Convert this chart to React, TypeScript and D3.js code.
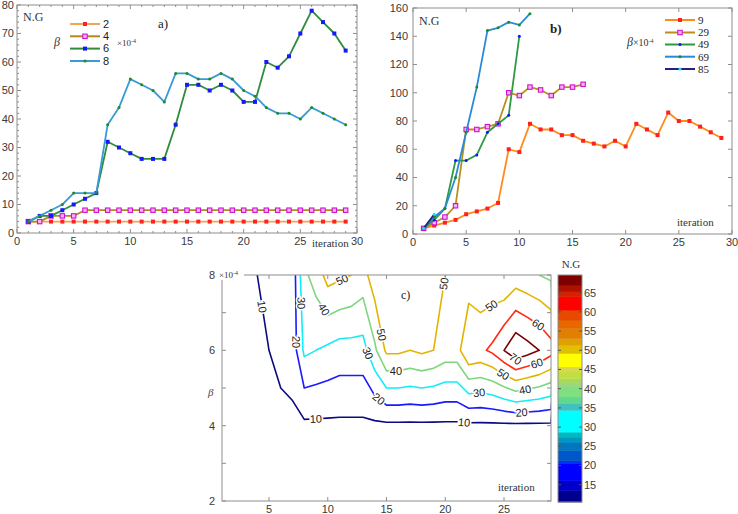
import React from "react";
import * as d3 from "d3";

// iteration index shared by every series
const ITER = d3.range(1, 30);

// a) N.G per iteration, β = 2, 4, 6, 8 (×10^-4)
const NG_B2 = [4, 4, 4, 4, 4, 4, 4, 4, 4, 4, 4, 4, 4, 4, 4, 4, 4, 4, 4, 4, 4, 4, 4, 4, 4, 4, 4, 4, 4];
const NG_B4 = [4, 4, 6, 6, 6, 8, 8, 8, 8, 8, 8, 8, 8, 8, 8, 8, 8, 8, 8, 8, 8, 8, 8, 8, 8, 8, 8, 8, 8];
const NG_B6 = [4, 6, 6, 8, 10, 12, 14, 32, 30, 28, 26, 26, 26, 38, 52, 52, 50, 52, 50, 46, 46, 60, 58, 62, 70, 78, 74, 70, 64];
const NG_B8 = [4, 6, 8, 10, 14, 14, 14, 38, 44, 54, 52, 50, 46, 56, 56, 54, 54, 56, 54, 50, 48, 44, 42, 42, 40, 44, 42, 40, 38];

// b) N.G per iteration, β = 9 … 85 (×10^-4)
const NG_B9 = [4, 6, 8, 10, 14, 16, 18, 22, 60, 58, 78, 74, 74, 70, 70, 66, 64, 62, 66, 62, 78, 74, 70, 86, 80, 80, 76, 72, 68];
const NG_B29 = [4, 8, 12, 20, 74, 74, 76, 78, 100, 98, 104, 102, 98, 104, 104, 106];
const NG_B49 = [4, 10, 18, 52, 52, 56, 72, 78, 84, 140];
const NG_B69 = [4, 12, 18, 40, 72, 104, 144, 146, 150, 148, 156];
const NG_B85 = [4, 14];

// c) contour grid built from the a) series
const BETA = [2, 4, 6, 8];
const GRID = [NG_B2, NG_B4, NG_B6, NG_B8];
const LEVELS = [10, 20, 30, 40, 50, 60, 70];
const LEVEL_COLORS = ["#0a0a82", "#1a1aff", "#14ecf8", "#7ed67e", "#e2b400", "#ff2a10", "#7a0000"];

// inline contour labels: level, iteration, β
const CLABELS: [number, number, number][] = [
  [10, 4.2, 7.15], [10, 9.0, 4.13], [10, 21.6, 4.06],
  [20, 7.33, 6.22], [20, 14.1, 4.62], [20, 26.5, 4.32],
  [30, 7.45, 7.25], [30, 13.3, 5.91], [30, 22.9, 4.83],
  [40, 9.6, 7.07], [40, 15.8, 5.42], [40, 26.8, 4.96],
  [50, 11.25, 7.85], [50, 14.4, 6.4], [50, 19.7, 7.78], [50, 24.0, 7.15], [50, 24.8, 5.3],
  [60, 27.7, 6.58], [60, 27.8, 5.65],
  [70, 26.0, 5.78],
];

// colour bar bands (boundaries ascending) and their colours
const CBAR_EDGES = [10.5, 13.5, 16.1, 20.5, 21.3, 24.0, 26.1, 27.4, 28.7, 34.4, 36.1, 37.9, 40.5, 41.3, 42.7, 44.4, 45.7, 49.2, 51.3, 53.1, 55.7, 57.9, 60.5, 64.0, 65.3, 67.0, 69.6];
const CBAR_COLORS = ["#00008f", "#0000c8", "#0000ff", "#0030f0", "#0058c8", "#0078c0", "#0098c0", "#00b8c0", "#00ffff", "#40c0c0", "#60d890", "#80e080", "#98d880", "#a8d860", "#c0e040", "#d8d850", "#ffff00", "#e0c000", "#e0a000", "#e08000", "#e86800", "#e84800", "#ff0000", "#d82000", "#b01000", "#800000"];
const CBAR_TICKS = [15, 20, 25, 30, 35, 40, 45, 50, 55, 60, 65];

const SANS = "Arial, 'Liberation Sans', sans-serif";
const SERIF = "'Times New Roman', 'Liberation Serif', serif";
const FRAME = "#8e8e8e";
const INK = "#3a3a3a";

type MarkerKind = "sq" | "sqo" | "dot";
interface Series {
  name: string;
  values: number[];
  line: string;
  marker: MarkerKind;
  mark: string;
}

const SERIES_A: Series[] = [
  { name: "2", values: NG_B2, line: "#f4a455", marker: "sq", mark: "#ff2222" },
  { name: "4", values: NG_B4, line: "#b48a1e", marker: "sqo", mark: "#d010d0" },
  { name: "6", values: NG_B6, line: "#2f8c3a", marker: "sq", mark: "#1818ff" },
  { name: "8", values: NG_B8, line: "#3a9ad8", marker: "dot", mark: "#1e8c1e" },
];

const SERIES_B: Series[] = [
  { name: "9", values: NG_B9, line: "#ff8c1a", marker: "sq", mark: "#ff2020" },
  { name: "29", values: NG_B29, line: "#b8901a", marker: "sqo", mark: "#d010d0" },
  { name: "49", values: NG_B49, line: "#2e9a40", marker: "dot", mark: "#1414ff" },
  { name: "69", values: NG_B69, line: "#2a8ad8", marker: "dot", mark: "#1e8c1e" },
  { name: "85", values: NG_B85, line: "#222280", marker: "dot", mark: "#20e0f0" },
];

function Marker({ kind, x, y, color }: { kind: MarkerKind; x: number; y: number; color: string }) {
  if (kind === "sq") return <rect x={x - 2} y={y - 2} width={4} height={4} fill={color} />;
  if (kind === "sqo")
    return <rect x={x - 2.2} y={y - 2.2} width={4.4} height={4.4} fill="#f6b0f6" stroke={color} strokeWidth={1.1} />;
  return <circle cx={x} cy={y} r={1.5} fill={color} />;
}

interface Box {
  left: number;
  right: number;
  top: number;
  bottom: number;
}

// boxed frame with inward ticks on all four sides
function Frame({
  box, x, y, xMajor, yMajor, xMinor = [], yMinor = [], xLabels = true,
}: {
  box: Box;
  x: d3.ScaleLinear<number, number>;
  y: d3.ScaleLinear<number, number>;
  xMajor: number[];
  yMajor: number[];
  xMinor?: number[];
  yMinor?: number[];
  xLabels?: boolean;
}) {
  const { left, right, top, bottom } = box;
  return (
    <g>
      <rect x={left} y={top} width={right - left} height={bottom - top} fill="none" stroke={FRAME} strokeWidth={1} />
      {xMajor.map((v) => (
        <g key={"xm" + v}>
          <line x1={x(v)} x2={x(v)} y1={bottom} y2={bottom - 4} stroke={FRAME} />
          <line x1={x(v)} x2={x(v)} y1={top} y2={top + 4} stroke={FRAME} />
          {xLabels && (
            <text x={x(v)} y={bottom + 12} textAnchor="middle" fontFamily={SANS} fontSize={11} fill={INK}>
              {v}
            </text>
          )}
        </g>
      ))}
      {xMinor.map((v) => (
        <g key={"xn" + v}>
          <line x1={x(v)} x2={x(v)} y1={bottom} y2={bottom - 2} stroke={FRAME} />
          <line x1={x(v)} x2={x(v)} y1={top} y2={top + 2} stroke={FRAME} />
        </g>
      ))}
      {yMajor.map((v) => (
        <g key={"ym" + v}>
          <line x1={left} x2={left + 4} y1={y(v)} y2={y(v)} stroke={FRAME} />
          <line x1={right} x2={right - 4} y1={y(v)} y2={y(v)} stroke={FRAME} />
        </g>
      ))}
      {yMinor.map((v) => (
        <g key={"yn" + v}>
          <line x1={left} x2={left + 2} y1={y(v)} y2={y(v)} stroke={FRAME} />
          <line x1={right} x2={right - 2} y1={y(v)} y2={y(v)} stroke={FRAME} />
        </g>
      ))}
    </g>
  );
}

function SeriesMarks({ s, x, y }: { s: Series; x: d3.ScaleLinear<number, number>; y: d3.ScaleLinear<number, number> }) {
  const pts = s.values.map((v, i) => [ITER[i], v] as [number, number]);
  const path = d3.line<[number, number]>().x((d) => x(d[0])).y((d) => y(d[1]))(pts) ?? "";
  return (
    <g>
      <path d={path} fill="none" stroke={s.line} strokeWidth={1.8} strokeLinejoin="round" />
      {pts.map((p, i) => (
        <Marker key={i} kind={s.marker} x={x(p[0])} y={y(p[1])} color={s.mark} />
      ))}
    </g>
  );
}

function Legend({ series, x1, x2, ys, font, size }: { series: Series[]; x1: number; x2: number; ys: number[]; font: string; size: number }) {
  return (
    <g>
      {series.map((s, i) => (
        <g key={s.name}>
          <line x1={x1} x2={x2} y1={ys[i]} y2={ys[i]} stroke={s.line} strokeWidth={2} />
          <Marker kind={s.marker} x={(x1 + x2) / 2} y={ys[i]} color={s.mark} />
          <text x={x2 + 3} y={ys[i]} dy="0.35em" fontFamily={font} fontSize={size} fill="#222">
            {s.name}
          </text>
        </g>
      ))}
    </g>
  );
}

function PanelA() {
  const box = { left: 17, right: 357, top: 5, bottom: 233 };
  const x = d3.scaleLinear().domain([0, 30]).range([box.left, box.right]);
  const y = d3.scaleLinear().domain([0, 80]).range([box.bottom, box.top]);
  const yMajor = d3.range(0, 81, 10);
  return (
    <g>
      <Frame
        box={box} x={x} y={y}
        xMajor={d3.range(0, 31, 5)}
        yMajor={yMajor}
        xMinor={d3.range(0, 31).filter((v) => v % 5 !== 0)}
        yMinor={d3.range(0, 81, 2).filter((v) => v % 10 !== 0)}
      />
      {yMajor.map((v) => (
        <text key={v} x={box.left - 3} y={y(v)} dy="0.36em" textAnchor="end" fontFamily={SANS} fontSize={11} fill={INK}>
          {v}
        </text>
      ))}
      {SERIES_A.map((s) => (
        <SeriesMarks key={s.name} s={s} x={x} y={y} />
      ))}
      <text x={23} y={21} fontFamily={SERIF} fontSize={12} fill="#333">N.G</text>
      <text x={158} y={28} fontFamily={SERIF} fontSize={13} fill="#222">a)</text>
      <Legend series={SERIES_A} x1={70} x2={100} ys={[24, 36.3, 48.6, 61]} font={SANS} size={11} />
      <text x={54} y={46} fontFamily={SERIF} fontStyle="italic" fontSize={12} fill="#333">β</text>
      <text x={117} y={46} fontFamily={SERIF} fontSize={9} fill="#333">
        ×10<tspan dy={-3} fontSize={6}>-4</tspan>
      </text>
      <text x={312} y={247} fontFamily={SERIF} fontSize={11} fill="#333">iteration</text>
    </g>
  );
}

function PanelB() {
  const box = { left: 413, right: 732, top: 8, bottom: 234 };
  const x = d3.scaleLinear().domain([0, 30]).range([box.left, box.right]);
  const y = d3.scaleLinear().domain([0, 160]).range([box.bottom, box.top]);
  const yMajor = d3.range(0, 161, 20);
  return (
    <g>
      <Frame box={box} x={x} y={y} xMajor={d3.range(0, 31, 5)} yMajor={yMajor} />
      {yMajor.map((v) => (
        <text key={v} x={box.left - 5} y={y(v)} dy="0.36em" textAnchor="end" fontFamily={SANS} fontSize={11} fill={INK}>
          {v}
        </text>
      ))}
      {SERIES_B.map((s) => (
        <SeriesMarks key={s.name} s={s} x={x} y={y} />
      ))}
      <text x={419} y={25} fontFamily={SERIF} fontSize={12} fill="#333">N.G</text>
      <text x={550} y={33} fontFamily={SERIF} fontWeight="bold" fontSize={13} fill="#222">b)</text>
      <Legend series={SERIES_B} x1={665} x2={695} ys={[20, 32.5, 44.5, 56.7, 69]} font={SERIF} size={11} />
      <text x={627} y={46} fontFamily={SERIF} fontSize={10} fill="#333">
        <tspan fontStyle="italic" fontSize={12}>β</tspan>×10<tspan dy={-3} fontSize={6}>-4</tspan>
      </text>
      <text x={677} y={226} fontFamily={SERIF} fontSize={11} fill="#333">iteration</text>
    </g>
  );
}

function PanelC() {
  const box = { left: 222, right: 551, top: 275, bottom: 501 };
  const x = d3.scaleLinear().domain([ITER[0], ITER[ITER.length - 1]]).range([box.left, box.right]);
  const y = d3.scaleLinear().domain([BETA[0], BETA[BETA.length - 1]]).range([box.bottom, box.top]);
  const dBeta = BETA[1] - BETA[0];

  const contours = d3.contours().size([ITER.length, BETA.length]).thresholds(LEVELS)(GRID.flat());

  // grid coordinates put sample i at i + 0.5
  const toPx = (gx: number, gy: number): [number, number] => [
    x(ITER[0] + gx - 0.5),
    y(BETA[0] + (gy - 0.5) * dBeta),
  ];
  const proj = d3.geoTransform({
    point(px: number, py: number) {
      const p = toPx(px, py);
      (this as any).stream.point(p[0], p[1]);
    },
  });
  const geo = d3.geoPath(proj);

  const inside = (px: number, py: number) =>
    px >= box.left - 0.5 && px <= box.right + 0.5 && py >= box.top - 0.5 && py <= box.bottom + 0.5;

  // each label sits on the nearest contour segment, turned to follow it
  const labels = CLABELS.map(([level, it, b], k) => {
    const c = contours[LEVELS.indexOf(level)];
    const ax = x(it);
    const ay = y(b);
    let best: { d: number; x: number; y: number; ang: number } | null = null;
    for (const poly of c.coordinates) {
      for (const ring of poly) {
        const pts = ring.map(([gx, gy]) => toPx(gx, gy));
        for (let i = 0; i < pts.length - 1; i++) {
          const [x1, y1] = pts[i];
          const [x2, y2] = pts[i + 1];
          if (!inside(x1, y1) || !inside(x2, y2)) continue;
          const dx = x2 - x1;
          const dy = y2 - y1;
          const l2 = dx * dx + dy * dy;
          if (l2 < 1e-6) continue;
          const t = Math.max(0, Math.min(1, ((ax - x1) * dx + (ay - y1) * dy) / l2));
          const px = x1 + t * dx;
          const py = y1 + t * dy;
          const d = (px - ax) ** 2 + (py - ay) ** 2;
          if (!best || d < best.d) best = { d, x: px, y: py, ang: (Math.atan2(dy, dx) * 180) / Math.PI };
        }
      }
    }
    if (!best) return null;
    let ang = best.ang;
    if (ang > 90) ang -= 180;
    if (ang <= -90) ang += 180;
    return (
      <text
        key={k}
        transform={`translate(${best.x.toFixed(2)},${best.y.toFixed(2)}) rotate(${ang.toFixed(1)})`}
        textAnchor="middle"
        dy="0.36em"
        fontFamily={SANS}
        fontSize={11}
        fill="#222"
        stroke="#fff"
        strokeWidth={3}
        paintOrder="stroke"
      >
        {level}
      </text>
    );
  });

  return (
    <g>
      <defs>
        <clipPath id="clipC">
          <rect x={box.left} y={box.top} width={box.right - box.left} height={box.bottom - box.top} />
        </clipPath>
      </defs>
      <g clipPath="url(#clipC)">
        {contours.map((c, i) => (
          <path key={c.value} d={geo(c as any) ?? ""} fill="none" stroke={LEVEL_COLORS[i]} strokeWidth={1.6} strokeLinejoin="round" />
        ))}
        {labels}
      </g>
      <Frame
        box={box} x={x} y={y}
        xMajor={[5, 10, 15, 20, 25]}
        yMajor={d3.range(2, 9)}
      />
      {[2, 4, 6, 8].map((v) => (
        <text key={v} x={box.left - 7} y={y(v)} dy="0.36em" textAnchor="end" fontFamily={SANS} fontSize={11} fill={INK}>
          {v}
        </text>
      ))}
      <rect x={217} y={267} width={27} height={13} fill="#fff" />
      <text x={219} y={278} fontFamily={SERIF} fontSize={9} fill="#333">
        ×10<tspan dy={-3} fontSize={6}>-4</tspan>
      </text>
      <text x={208} y={396} fontFamily={SERIF} fontStyle="italic" fontSize={11} fill="#444">β</text>
      <text x={401} y={299} fontFamily={SERIF} fontSize={12} fill="#222">c)</text>
      <text x={498} y={491} fontFamily={SERIF} fontSize={11} fill="#333">iteration</text>
    </g>
  );
}

function Colorbar() {
  const left = 558;
  const right = 582;
  const y = d3
    .scaleLinear()
    .domain([CBAR_EDGES[0], CBAR_EDGES[CBAR_EDGES.length - 1]])
    .range([502, 275]);
  return (
    <g>
      {CBAR_COLORS.map((c, i) => (
        <rect
          key={i}
          x={left}
          y={y(CBAR_EDGES[i + 1])}
          width={right - left}
          height={y(CBAR_EDGES[i]) - y(CBAR_EDGES[i + 1]) + 0.4}
          fill={c}
        />
      ))}
      <rect x={left} y={275} width={right - left} height={227} fill="none" stroke={FRAME} />
      {CBAR_TICKS.map((v) => (
        <g key={v}>
          <line x1={right} x2={right - 3} y1={y(v)} y2={y(v)} stroke="#555" />
          <line x1={left} x2={left + 3} y1={y(v)} y2={y(v)} stroke="#555" />
          <text x={right + 2} y={y(v)} dy="0.36em" fontFamily={SANS} fontSize={11} fill={INK}>
            {v}
          </text>
        </g>
      ))}
      <text x={571} y={268} textAnchor="middle" fontFamily={SERIF} fontSize={11} fill="#333">N.G</text>
    </g>
  );
}

export default function App() {
  return (
    <svg
      width={738}
      height={514}
      viewBox="0 0 738 514"
      style={{ position: "absolute", left: 0, top: 0, background: "#fff" }}
    >
      <rect width={738} height={514} fill="#fff" />
      <PanelA />
      <PanelB />
      <PanelC />
      <Colorbar />
    </svg>
  );
}
